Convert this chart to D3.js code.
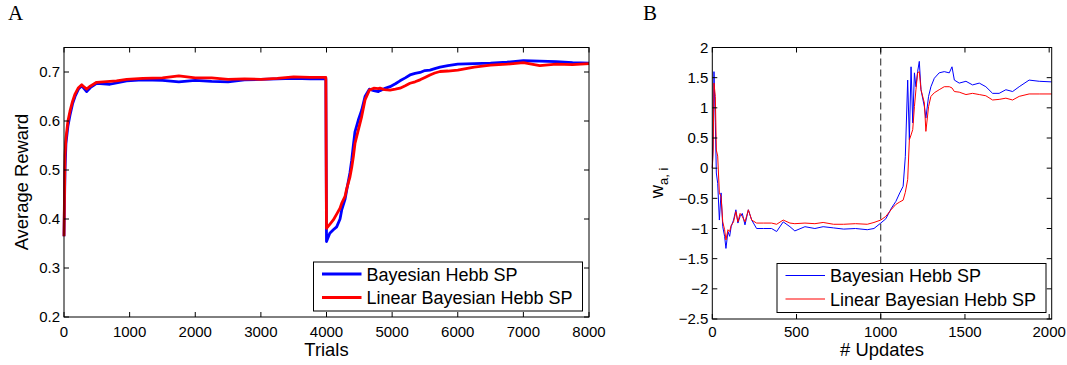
<!DOCTYPE html>
<html>
<head>
<meta charset="utf-8">
<script src="https://cdn.jsdelivr.net/npm/d3@7"></script>
<style>
  body { margin: 0; background: #fff; }
  svg { display: block; font-family: "Liberation Sans", Arial, sans-serif; }
  .panel-letter { font-family: "Liberation Serif", "DejaVu Serif", serif; font-size: 21px; }
</style>
</head>
<body>
<svg id="chart" width="1067" height="365"></svg>
<script>
// Panel A: average reward vs trials
const trialsA = [0, 15, 30, 60, 91, 130, 168, 220, 270, 300, 345, 400, 497, 600, 700, 800, 955, 1200, 1500, 1750, 2000, 2250, 2500, 2750, 3000, 3250, 3500, 3750, 3990,
  4000, 4050, 4104, 4155, 4206, 4231, 4282, 4308, 4358, 4384, 4409, 4434, 4485, 4536, 4587, 4653, 4720, 4790, 4815, 4880, 4968, 5050, 5120, 5200, 5272, 5350, 5425, 5500, 5577, 5650, 5730,
  5850, 6000, 6250, 6500, 6750, 7000, 7250, 7500, 7750, 8000];
const bayesA = [0.365, 0.50, 0.555, 0.59, 0.612, 0.635, 0.65, 0.665, 0.672, 0.667, 0.660, 0.668, 0.677, 0.676, 0.675, 0.678, 0.682, 0.684, 0.683, 0.680, 0.683, 0.681, 0.680, 0.684, 0.685, 0.686, 0.687, 0.686, 0.686,
  0.354, 0.371, 0.378, 0.384, 0.400, 0.418, 0.440, 0.459, 0.495, 0.520, 0.550, 0.578, 0.602, 0.622, 0.650, 0.665, 0.662, 0.660, 0.662, 0.666, 0.670, 0.676, 0.682, 0.688, 0.694, 0.697, 0.699, 0.703, 0.704, 0.707, 0.710,
  0.713, 0.716, 0.717, 0.718, 0.720, 0.723, 0.722, 0.721, 0.719, 0.718];
const linearA = [0.365, 0.53, 0.565, 0.60, 0.620, 0.640, 0.655, 0.668, 0.674, 0.670, 0.665, 0.671, 0.679, 0.680, 0.681, 0.682, 0.685, 0.687, 0.688, 0.692, 0.688, 0.688, 0.685, 0.686, 0.685, 0.687, 0.690, 0.689, 0.689,
  0.381, 0.389, 0.398, 0.410, 0.422, 0.432, 0.446, 0.462, 0.486, 0.505, 0.527, 0.554, 0.582, 0.609, 0.643, 0.663, 0.667, 0.666, 0.667, 0.664, 0.663, 0.665, 0.667, 0.672, 0.677, 0.680, 0.684, 0.689, 0.694, 0.698, 0.701,
  0.702, 0.704, 0.710, 0.714, 0.716, 0.719, 0.713, 0.716, 0.715, 0.717];

// Panel B: weight w_{a,i} vs number of updates
const updatesB = [0, 5, 10, 18, 24, 32, 42, 52, 62, 73, 81, 93, 103, 112, 126, 140, 152, 165, 178, 194, 214, 234, 263, 303, 352, 382, 421, 461, 490, 550, 609, 658, 720, 780, 850, 920, 960, 1000,
  1030, 1064, 1090, 1113, 1133, 1146, 1160, 1170, 1180, 1190, 1200, 1209, 1219, 1229, 1239, 1259, 1268, 1284, 1298, 1318, 1347, 1377, 1407, 1423, 1437, 1466, 1506, 1545, 1585, 1624, 1664, 1703, 1743, 1783, 1822, 1881, 1941, 2015];
const bayesB = [0, 0.4, 1.60, 0.75, -0.08, -0.25, -0.86, -0.41, -0.97, -1.13, -1.33, -1.05, -1.13, -0.97, -0.86, -0.69, -0.91, -0.80, -0.75, -0.94, -0.69, -0.86, -1.00, -1.00, -1.00, -1.05, -0.89, -0.97, -1.04, -0.97, -1.00, -0.97, -0.99, -1.01, -1.00, -1.02, -1.00, -0.91,
  -0.84, -0.66, -0.55, -0.41, -0.30, 0.19, 1.46, 0.47, 1.68, 0.75, 1.58, 1.35, 1.60, 1.77, 1.30, 1.02, 0.83, 1.19, 1.35, 1.49, 1.58, 1.60, 1.58, 1.68, 1.46, 1.41, 1.44, 1.38, 1.41, 1.35, 1.24, 1.24, 1.30, 1.27, 1.35, 1.46, 1.44, 1.43];
const linearB = [0, 0.3, 1.41, 1.19, 0.30, 0.20, -0.41, -0.47, -0.89, -1.02, -1.19, -1.02, -1.05, -0.95, -0.89, -0.72, -0.89, -0.75, -0.80, -0.89, -0.69, -0.86, -0.91, -0.91, -0.91, -0.93, -0.86, -0.91, -0.92, -0.91, -0.92, -0.90, -0.93, -0.93, -0.92, -0.93, -0.90, -0.86,
  -0.80, -0.68, -0.60, -0.56, -0.53, -0.40, -0.19, 0.47, 0.55, 0.64, 1.02, 1.30, 1.58, 1.60, 1.30, 1.08, 0.61, 1.02, 1.19, 1.25, 1.30, 1.35, 1.35, 1.33, 1.27, 1.26, 1.22, 1.24, 1.22, 1.20, 1.13, 1.14, 1.16, 1.13, 1.19, 1.23, 1.23, 1.23];

const ticksAx = [0, 1000, 2000, 3000, 4000, 5000, 6000, 7000, 8000];
const ticksAy = [0.2, 0.3, 0.4, 0.5, 0.6, 0.7];
const ticksBx = [0, 500, 1000, 1500, 2000];
const ticksBy = [-2.5, -2, -1.5, -1, -0.5, 0, 0.5, 1, 1.5, 2];
const legendLabels = ["Bayesian Hebb SP", "Linear Bayesian Hebb SP"];
const colors = ["#0000ff", "#ff0000"];

const svg = d3.select("#chart");
const fmt = v => String(v).replace("-", "\u2212");

function drawAxes(g, x, y, xt, yt, labelOffset) {
  const [x0, x1] = x.range(), [y0, y1] = y.range();
  const tl = 5;
  xt.forEach(d => {
    const px = x(d);
    g.append("line").attr("x1", px).attr("x2", px).attr("y1", y0).attr("y2", y0 - tl).attr("stroke", "#000");
    g.append("line").attr("x1", px).attr("x2", px).attr("y1", y1).attr("y2", y1 + tl).attr("stroke", "#000");
    g.append("text").attr("x", px).attr("y", y0 + labelOffset).attr("text-anchor", "middle")
      .attr("font-size", 15).text(fmt(d));
  });
  yt.forEach(d => {
    const py = y(d);
    g.append("line").attr("x1", x0).attr("x2", x0 + tl).attr("y1", py).attr("y2", py).attr("stroke", "#000");
    g.append("line").attr("x1", x1).attr("x2", x1 - tl).attr("y1", py).attr("y2", py).attr("stroke", "#000");
    g.append("text").attr("x", x0 - 4).attr("y", py + 5.2).attr("text-anchor", "end")
      .attr("font-size", 15).text(fmt(d));
  });
  g.append("rect").attr("x", x0).attr("y", y1).attr("width", x1 - x0).attr("height", y0 - y1)
    .attr("fill", "none").attr("stroke", "#000").attr("stroke-width", 1);
}

function drawLegend(g, bx, by, bw, bh, lw) {
  g.append("rect").attr("x", bx).attr("y", by).attr("width", bw).attr("height", bh)
    .attr("fill", "#fff").attr("stroke", "#000").attr("stroke-width", 1);
  legendLabels.forEach((lab, i) => {
    const yy = by + 12 + i * 23.5;
    g.append("line").attr("x1", bx + 8.5).attr("x2", bx + 48).attr("y1", yy).attr("y2", yy)
      .attr("stroke", colors[i]).attr("stroke-width", lw);
    g.append("text").attr("x", bx + 53).attr("y", yy + 6.5).attr("font-size", 18).text(lab);
  });
}

// ---- Panel A ----
const xA = d3.scaleLinear().domain([0, 8000]).range([64, 589]);
const yA = d3.scaleLinear().domain([0.2, 0.75]).range([317, 47.5]);
const gA = svg.append("g");
[bayesA, linearA].forEach((series, i) => {
  gA.append("path")
    .datum(series.map((v, k) => [trialsA[k], v]))
    .attr("fill", "none").attr("stroke", colors[i]).attr("stroke-width", 2.8)
    .attr("stroke-linejoin", "round")
    .attr("d", d3.line().x(d => xA(d[0])).y(d => yA(d[1])));
});
drawAxes(gA, xA, yA, ticksAx, ticksAy, 19.5);
drawLegend(gA, 313.5, 262, 269, 49, 2.8);
gA.append("text").attr("x", 326.5).attr("y", 356).attr("text-anchor", "middle").attr("font-size", 18.4).text("Trials");
gA.append("text").attr("transform", "translate(28,182) rotate(-90)").attr("text-anchor", "middle")
  .attr("font-size", 18.4).text("Average Reward");
svg.append("text").attr("class", "panel-letter").attr("x", 8).attr("y", 20).text("A");

// ---- Panel B ----
const xB = d3.scaleLinear().domain([0, 2015]).range([712.3, 1051.7]);
const yB = d3.scaleLinear().domain([-2.5, 2]).range([319, 47.5]);
const gB = svg.append("g");
gB.append("line").attr("x1", xB(1000)).attr("x2", xB(1000)).attr("y1", yB(2)).attr("y2", yB(-2.5))
  .attr("stroke", "#222").attr("stroke-width", 1).attr("stroke-dasharray", "7,4");
[bayesB, linearB].forEach((series, i) => {
  gB.append("path")
    .datum(series.map((v, k) => [updatesB[k], v]))
    .attr("fill", "none").attr("stroke", colors[i]).attr("stroke-width", 1)
    .attr("d", d3.line().x(d => xB(d[0])).y(d => yB(d[1])));
});
drawAxes(gB, xB, yB, ticksBx, ticksBy, 17.5);
drawLegend(gB, 777, 263.5, 269, 49, 1.2);
gB.append("text").attr("x", 882).attr("y", 356).attr("text-anchor", "middle").attr("font-size", 18.4).text("# Updates");
const wl = gB.append("text").attr("transform", "translate(663,183) rotate(-90)").attr("text-anchor", "middle").attr("font-size", 18.4);
wl.append("tspan").text("w");
wl.append("tspan").attr("font-size", 13).attr("dy", 5).text("a, i");
svg.append("text").attr("class", "panel-letter").attr("x", 643).attr("y", 20).text("B");
</script>
</body>
</html>
